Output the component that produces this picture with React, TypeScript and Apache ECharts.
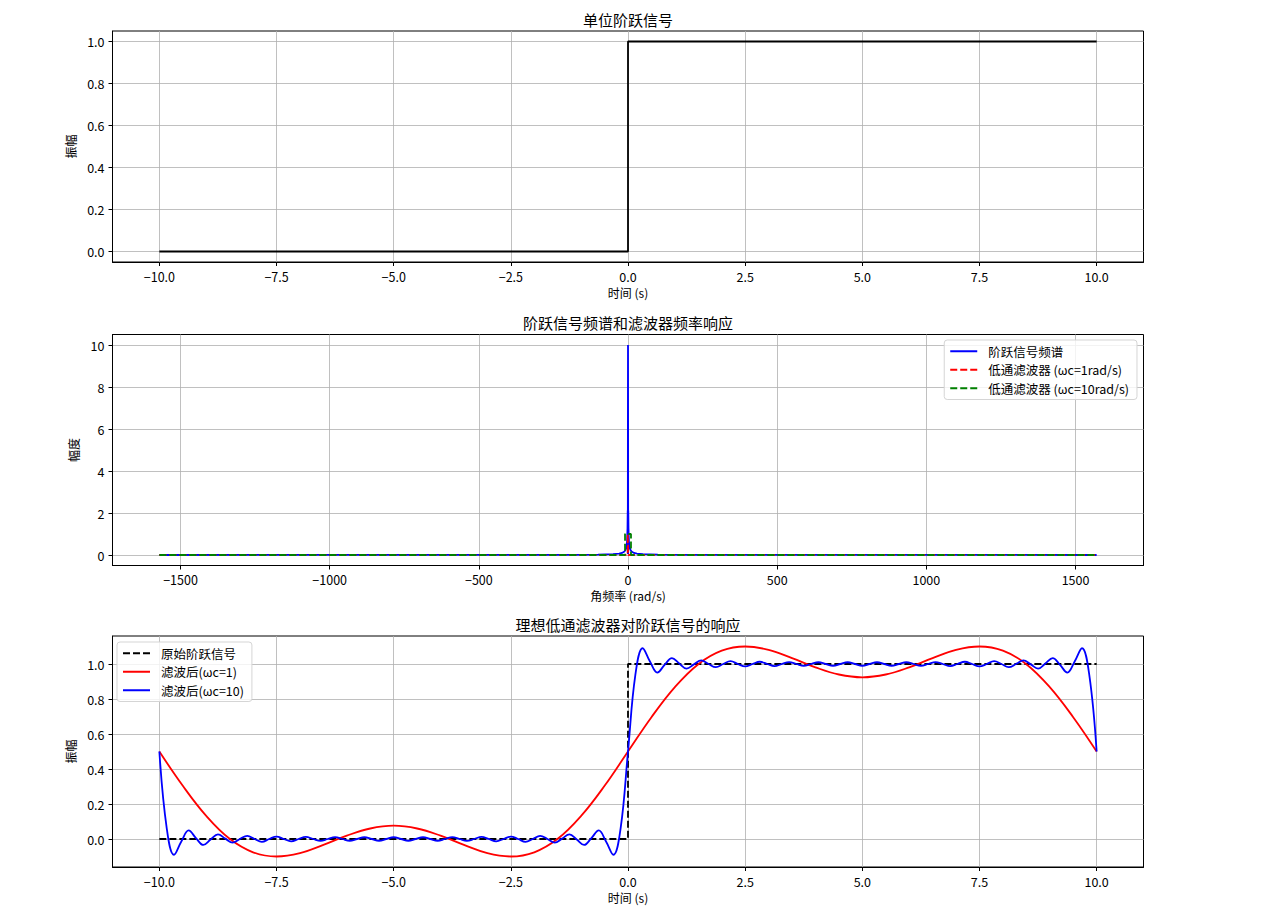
import React, { useEffect, useRef } from "react";
import * as echarts from "echarts";

// ---------- data ----------
const stepT = [-10, 0, 0, 10];
const stepAmp = [0, 0, 1, 1];

const specW = [-1570.8, -500, -200, -100, -50, -30, -20, -12, -8, -5, -3.1, -1.6, -0.94, -0.63, -0.31, 0, 0.31, 0.63, 0.94, 1.6, 3.1, 5, 8, 12, 20, 30, 50, 100, 200, 500, 1570.8];
const specMag = [0.001, 0.004, 0.01, 0.02, 0.04, 0.07, 0.1, 0.17, 0.25, 0.4, 0.65, 1.27, 2.12, 0.05, 6.37, 10, 6.37, 0.05, 2.12, 1.27, 0.65, 0.4, 0.25, 0.17, 0.1, 0.07, 0.04, 0.02, 0.01, 0.004, 0.001];

const lp1W = [-1570.8, -1, -1, 1, 1, 1570.8];
const lp1H = [0, 0, 1, 1, 0, 0];
const lp10W = [-1570.8, -10, -10, 10, 10, 1570.8];
const lp10H = [0, 0, 1, 1, 0, 0];

const origT = [-10, 0, 0, 10];
const origAmp = [0, 0, 1, 1];

// filtered (wc=1), sampled every 0.5 s from -10 to 10
const filt1 = [
  0.5, 0.304, 0.132, 0.001, -0.076, -0.1, -0.081, -0.034, 0.019, 0.06, 0.076,
  0.06, 0.019, -0.034, -0.081, -0.1, -0.076, 0.001, 0.132, 0.304,
  0.5, 0.696, 0.868, 0.999, 1.076, 1.1, 1.081, 1.034, 0.981, 0.94, 0.924,
  0.94, 0.981, 1.034, 1.081, 1.1, 1.076, 0.999, 0.868, 0.696, 0.5,
];
const FILT1_T0 = -10;
const FILT1_DT = 0.5;

// filtered (wc=10), sampled every 0.15625 s from -10 to 10
const filt10 = [
  0.5, 0.064, -0.09, -0.014, 0.049, 0.005, -0.034, -0.003, 0.026, 0.002, -0.021, 0.0, 0.018, 0.0, -0.016, 0.0, 0.014, 0.0, -0.013, 0.0, 0.012, 0.0, -0.011, 0.0, 0.011, 0.0, -0.01, 0.0, 0.01, 0.0, -0.01, 0.0, 0.01,
  0.0, -0.01, 0.0, 0.01, 0.0, -0.01, 0.0, 0.011, 0.0, -0.011, 0.0, 0.012, 0.0, -0.013, 0.0, 0.014, 0.0, -0.016, 0.0, 0.018, 0.0, -0.021, 0.002, 0.026, -0.003, -0.034, 0.005, 0.049, -0.014, -0.09, 0.064,
  0.5,
  0.936, 1.09, 1.014, 0.951, 0.995, 1.034, 1.003, 0.974, 0.998, 1.021, 1.0, 0.982, 1.0, 1.016, 1.0, 0.986, 1.0, 1.013, 1.0, 0.988, 1.0, 1.011, 1.0, 0.989, 1.0, 1.01, 1.0, 0.99, 1.0, 1.01, 1.0, 0.99,
  1.0, 1.01, 1.0, 0.99, 1.0, 1.01, 1.0, 0.989, 1.0, 1.011, 1.0, 0.988, 1.0, 1.013, 1.0, 0.986, 1.0, 1.016, 1.0, 0.982, 1.0, 1.021, 0.998, 0.974, 1.003, 1.034, 0.995, 0.951, 1.014, 1.09, 0.936, 0.5,
];
const FILT10_T0 = -10;
const FILT10_DT = 0.15625;

const timeTicks = [-10, -7.5, -5, -2.5, 0, 2.5, 5, 7.5, 10];
const ampTicks = [0, 0.2, 0.4, 0.6, 0.8, 1.0];
const freqTicks = [-1500, -1000, -500, 0, 500, 1000, 1500];
const magTicks = [0, 2, 4, 6, 8, 10];

const titles = ["单位阶跃信号", "阶跃信号频谱和滤波器频率响应", "理想低通滤波器对阶跃信号的响应"];
const legendMid = ["阶跃信号频谱", "低通滤波器 (ωc=1rad/s)", "低通滤波器 (ωc=10rad/s)"];
const legendBot = ["原始阶跃信号", "滤波后(ωc=1)", "滤波后(ωc=10)"];

// ---------- helpers ----------
const FONT = '"Noto Sans CJK SC", "Noto Sans", sans-serif';
const zip = (xs: number[], ys: number[]) => xs.map((x, i) => [x, ys[i]]);
const grid = (t0: number, dt: number, ys: number[]) => ys.map((y, i) => [t0 + i * dt, y]);
const minus = (s: string) => s.replace("-", "\u2212");
const fmt1 = (v: number) => minus(v.toFixed(1));
const fmt0 = (v: number) => minus(v.toFixed(0));

const GL = 112.5;
const GW = 1031;
const GH = 231;
const TOPS = [31, 334.5, 636];

function xAxis(gi: number, min: number, max: number, ticks: number[], f: (v: number) => string, name: string) {
  return {
    type: "value",
    gridIndex: gi,
    min,
    max,
    name,
    nameLocation: "middle",
    nameGap: 24,
    nameTextStyle: { fontFamily: FONT, fontSize: 12, color: "#000" },
    axisLine: { show: true, onZero: false, lineStyle: { color: "#000", width: 1 } },
    axisTick: { show: true, inside: false, length: 4, customValues: ticks, lineStyle: { color: "#000" } },
    axisLabel: { customValues: ticks, formatter: f, margin: 8, color: "#000", fontSize: 12.5, fontFamily: FONT },
    splitLine: { show: true, lineStyle: { color: "#b0b0b0", width: 0.8 } },
  };
}
function yAxis(gi: number, min: number, max: number, ticks: number[], f: (v: number) => string, name: string, gap: number) {
  return {
    type: "value",
    gridIndex: gi,
    min,
    max,
    name,
    nameLocation: "middle",
    nameGap: gap,
    nameRotate: 90,
    nameTextStyle: { fontFamily: FONT, fontSize: 12, color: "#000" },
    axisLine: { show: true, onZero: false, lineStyle: { color: "#000", width: 1 } },
    axisTick: { show: true, inside: false, length: 4, customValues: ticks, lineStyle: { color: "#000" } },
    axisLabel: { customValues: ticks, formatter: f, margin: 8, color: "#000", fontSize: 12.5, fontFamily: FONT },
    splitLine: { show: true, lineStyle: { color: "#b0b0b0", width: 0.8 } },
  };
}

function line(name: string, gi: number, data: number[][], color: string, dashed: boolean, smooth: number | boolean = false) {
  return {
    type: "line",
    name,
    xAxisIndex: gi,
    yAxisIndex: gi,
    data,
    symbol: "none",
    smooth,
    clip: false,
    lineStyle: { color, width: 1.8, type: dashed ? [7, 3] : "solid" },
    itemStyle: { color },
  };
}

export default function App() {
  const ref = useRef<HTMLDivElement>(null);
  useEffect(() => {
    if (!ref.current) return;
    const chart = echarts.init(ref.current, null, { renderer: "svg" });
    const legendCommon = {
      orient: "vertical",
      itemWidth: 27,
      itemHeight: 13,
      itemGap: 6,
      itemStyle: { opacity: 0 },
      backgroundColor: "rgba(255,255,255,0.8)",
      borderColor: "#d5d5d5",
      borderWidth: 1,
      borderRadius: 3,
      textStyle: { fontFamily: FONT, fontSize: 12.5, color: "#000", padding: [0, 0, 0, 6] },
    };
    chart.setOption({
      animation: false,
      backgroundColor: "#fff",
      grid: TOPS.map((t) => ({
        left: GL,
        top: t,
        width: GW,
        height: GH,
        show: true,
        borderColor: "#000",
        borderWidth: 1,
        backgroundColor: "transparent",
      })),
      xAxis: [
        xAxis(0, -11, 11, timeTicks, fmt1, "时间 (s)"),
        xAxis(1, -1727.9, 1727.9, freqTicks, fmt0, "角频率 (rad/s)"),
        xAxis(2, -11, 11, timeTicks, fmt1, "时间 (s)"),
      ],
      yAxis: [
        yAxis(0, -0.05, 1.05, ampTicks, fmt1, "振幅", 34),
        yAxis(1, -0.5, 10.5, magTicks, fmt0, "幅度", 29),
        yAxis(2, -0.16, 1.16, ampTicks, fmt1, "振幅", 34),
      ],
      legend: [
        { ...legendCommon, data: legendMid, right: 132, top: 340, padding: [5, 8, 5, 5] },
        { ...legendCommon, data: legendBot, left: 117, top: 642, padding: [5, 8, 5, 5] },
      ],
      graphic: titles.map((t, i) => ({
        type: "text",
        x: GL + GW / 2,
        y: TOPS[i] - 12,
        style: { text: t, fontSize: 15, fontFamily: FONT, fill: "#000", align: "center", verticalAlign: "middle" },
      })),
      series: [
        line("单位阶跃", 0, zip(stepT, stepAmp), "#000", false),
        line(legendMid[0], 1, zip(specW, specMag), "#0000ff", false),
        line(legendMid[1], 1, zip(lp1W, lp1H), "#ff0000", true),
        line(legendMid[2], 1, zip(lp10W, lp10H), "#008000", true),
        line(legendBot[0], 2, zip(origT, origAmp), "#000", true),
        line(legendBot[1], 2, grid(FILT1_T0, FILT1_DT, filt1), "#ff0000", false, 0.4),
        line(legendBot[2], 2, grid(FILT10_T0, FILT10_DT, filt10), "#0000ff", false, 0.4),
      ],
    });
    return () => chart.dispose();
  }, []);
  return (
    <div
      ref={ref}
      style={{ position: "fixed", left: 0, top: 0, width: 1269, height: 916, background: "#fff" }}
    />
  );
}
